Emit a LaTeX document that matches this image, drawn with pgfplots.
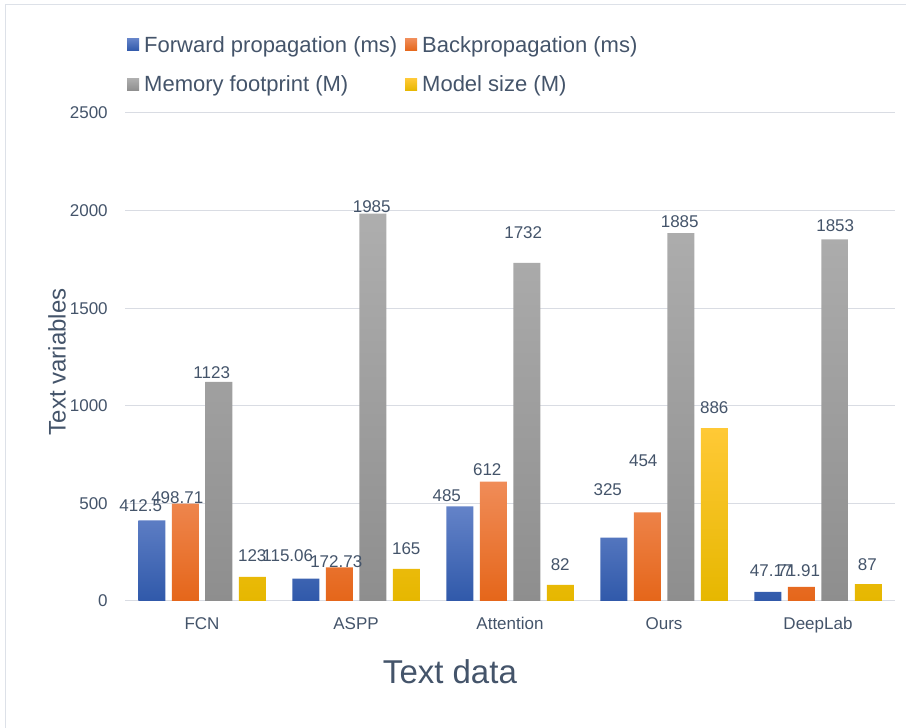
\documentclass[border=0pt]{standalone}
\usepackage{fontspec}
\setmainfont{Liberation Sans}
\usepackage{pgfplots}
\usepackage{pgfplotstable}
\pgfplotsset{compat=1.18}
\definecolor{txt}{HTML}{44546A}
\definecolor{gridc}{HTML}{D9DCE3}
\definecolor{framec}{HTML}{DDE1E8}
\definecolor{blueT}{HTML}{6483C8}
\definecolor{blueB}{HTML}{3059AA}
\definecolor{oraT}{HTML}{F08C58}
\definecolor{oraB}{HTML}{E5661A}
\definecolor{grayT}{HTML}{AEAEAE}
\definecolor{grayB}{HTML}{8E8E8E}
\definecolor{yelT}{HTML}{FFC936}
\definecolor{yelB}{HTML}{E6B700}

\pgfplotstableread{
x y lab dx dy
0 412.5 412.5 -11 15
1 115.06 115.06 -18 22.5
2 485 485 -13 11
3 325 325 -6 48
4 47.17 47.17 3.5 21
}\fwd
\pgfplotstableread{
x y lab dx dy
0 498.71 498.71 -8 6
1 172.73 172.73 -3 6
2 612 612 -6 11.5
3 454 454 -4 52
4 71.91 71.91 -2.5 16
}\bwd
\pgfplotstableread{
x y lab dx dy
0 1123 1123 -7 9
1 1985 1985 -1 7
2 1732 1732 -3.5 30.5
3 1885 1885 -1 11
4 1853 1853 0.5 14
}\mem
\pgfplotstableread{
x y lab dx dy
0 123 123 0 21
1 165 165 0 20.5
2 82 82 0 20.5
3 886 886 0 20
4 87 87 -1 19
}\msize

\pgfplotsset{
  lbl/.style={
    point meta=explicit symbolic,
    visualization depends on={\thisrow{dx} \as \dx},
    visualization depends on={\thisrow{dy} \as \dy},
    nodes near coords,
    nodes near coords style={anchor=center, xshift=\dx pt, yshift=\dy pt, inner sep=0pt, font=\fontsize{17}{20}\selectfont, text=txt},
  }
}

\begin{document}
\begin{tikzpicture}
\useasboundingbox (0,0) rectangle (906pt,728pt);
\draw[framec, line width=1pt] (5pt,0) -- (5pt,723pt) -- (906pt,723pt);
\begin{axis}[
  at={(125pt,127pt)}, anchor=south west,
  scale only axis, width=770pt, height=488pt,
  ybar=6.5pt, bar width=27pt,
  xmin=-0.5, xmax=4.5, ymin=0, ymax=2500,
  enlargelimits=false, clip=false,
  xtick={0,1,2,3,4},
  xticklabels={FCN,ASPP,Attention,Ours,DeepLab},
  ytick={0,500,1000,1500,2000,2500},
  axis x line=bottom, axis y line=left,
  y axis line style={draw=none},
  x axis line style={draw=gridc, line width=1pt, -},
  xtick style={draw=none}, ytick style={draw=none},
  ymajorgrids, grid style={gridc, line width=1pt},
  /pgf/number format/.cd, 1000 sep={}, assume math mode=true, /pgfplots/.cd,
  tick label style={font=\fontsize{17}{20}\selectfont, text=txt},
  yticklabel style={anchor=east, inner sep=0pt, xshift=-15pt},
  xticklabel style={anchor=base, inner sep=0pt, yshift=-26pt},
  ylabel={Text variables},
  ylabel style={font=\fontsize{24}{28}\selectfont, text=txt, at={(axis description cs:-0.0883,0.49)}, anchor=center, rotate=0},
  xlabel={Text data},
  xlabel style={font=\fontsize{33}{38}\selectfont, text=txt, at={(axis description cs:0.422,-0.1455)}, anchor=center},
  legend columns=2,
  legend style={at={(axis description cs:0.0026,1.158)}, anchor=north west, draw=none, fill=none, inner sep=0pt, row sep=22.4pt,
    nodes={inner sep=0pt}, font=\fontsize{22}{26}\selectfont, text=txt,
    /tikz/every odd column/.append style={column sep=5pt},
    /tikz/every even column/.append style={column sep=5pt}},
  legend cell align=left,
  legend image code/.code={\fill[#1] (0pt,-6pt) rectangle (12pt,6pt);},
]
\addplot[draw=none, top color=blueT, bottom color=blueB, lbl] table[x=x, y=y, meta=lab] {\fwd};
\addlegendentry{\makebox[256pt][l]{Forward propagation (ms)}}
\addplot[draw=none, top color=oraT, bottom color=oraB, lbl] table[x=x, y=y, meta=lab] {\bwd};
\addlegendentry{Backpropagation (ms)}
\addplot[draw=none, top color=grayT, bottom color=grayB, lbl] table[x=x, y=y, meta=lab] {\mem};
\addlegendentry{\makebox[256pt][l]{Memory footprint (M)}}
\addplot[draw=none, top color=yelT, bottom color=yelB, lbl] table[x=x, y=y, meta=lab] {\msize};
\addlegendentry{Model size (M)}
\end{axis}
\end{tikzpicture}
\end{document}
